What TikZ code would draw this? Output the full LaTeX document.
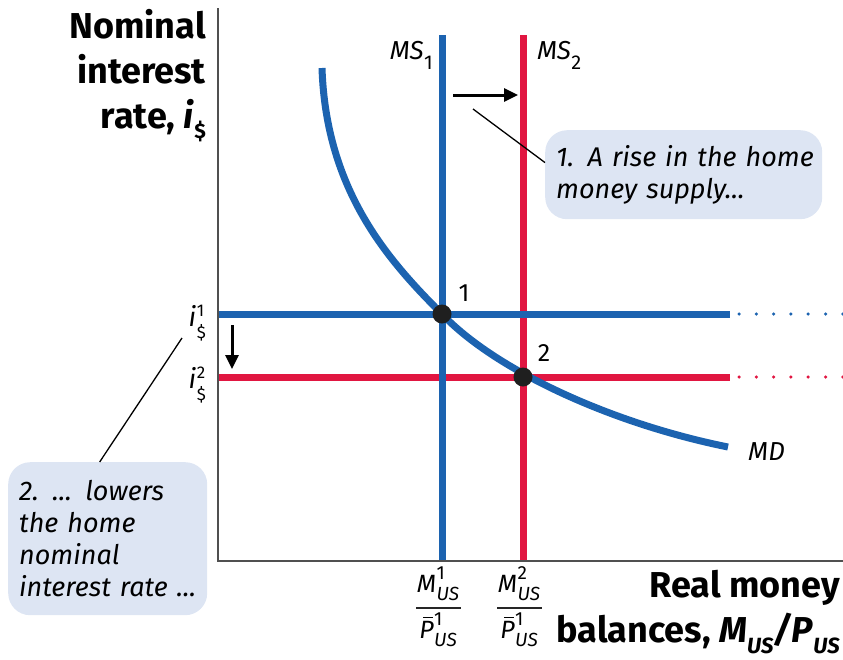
\documentclass[tikz,border=0pt]{standalone}
\usepackage{fontspec}
\setmainfont{Fira Sans}
\usetikzlibrary{arrows.meta}
\definecolor{msblue}{RGB}{28,99,176}
\definecolor{msred}{RGB}{225,22,65}
\definecolor{boxfill}{RGB}{221,229,243}
\definecolor{axisgray}{RGB}{80,80,80}
% base with raised superscript and lowered subscript, stacked
\newcommand{\SupSub}[6]{#1\kern0.5pt\rlap{\raisebox{#4}{\fontsize{#6}{#6}\selectfont #2}}\raisebox{-#5}{\fontsize{#6}{#6}\selectfont #3}}
\newcommand{\BarP}{\rlap{\hspace{4pt}\raisebox{20pt}{\rule{10pt}{1.3pt}}}P}
\newcommand{\annotfont}{\fontsize{27}{32}\selectfont\itshape}
\newcommand{\bigfont}{\fontsize{36}{45}\selectfont\bfseries}
\begin{document}
\begin{tikzpicture}[x=1pt,y=-1pt,
  axisline/.style={draw=axisgray,line width=2.5pt},
  blueline/.style={draw=msblue,line width=7pt},
  redline/.style={draw=msred,line width=7pt},
  bluedots/.style={draw=msblue,line width=3.5pt,line cap=round,dash pattern=on 0pt off 17.3pt},
  reddots/.style={draw=msred,line width=3.5pt,line cap=round,dash pattern=on 0pt off 17.3pt},
  callout/.style={draw=black,line width=1.3pt},
  fracbar/.style={draw=black!85,line width=1.2pt},
  movearrow/.style={draw=black,line width=3pt,-{Triangle[length=14pt,width=13pt]}},
  notebox/.style={fill=boxfill,rounded corners=22pt,inner xsep=11pt,inner ysep=0pt,align=left,font=\annotfont,anchor=north west},
  eqdot/.style={circle,fill=black!88,minimum size=19pt,inner sep=0pt},
  numlabel/.style={font=\fontsize{25}{25}\selectfont,inner sep=0pt},
  curvelabel/.style={font=\fontsize{26}{26}\selectfont\itshape,inner sep=0pt},
  axislabel/.style={font=\bigfont,align=right,inner sep=0pt},
  ticklabel/.style={font=\fontsize{27}{27}\selectfont\itshape,inner sep=0pt},
  fraclabel/.style={font=\fontsize{25}{25}\selectfont\itshape,inner sep=0pt,anchor=base}
]
\useasboundingbox (0,0) rectangle (843,659);

% horizontal and vertical schedule lines
\draw[redline] (218,377) -- (730,377);
\draw[reddots] (739,377) -- (844,377);
\draw[blueline] (442,35) -- (442,560);
\draw[redline] (523,35) -- (523,560);
\draw[blueline] (218,314) -- (730,314);
\draw[bluedots] (739,314) -- (844,314);

% money demand
\draw[blueline] (322,68) .. controls (326,192) and (390,262) .. (442,314)
  .. controls (494,369) and (609,423) .. (728,447);

% axes
\draw[axisline] (218,8) -- (218,561) -- (844,561);

% equilibrium points
\node[eqdot] (p1) at (442,314) {};
\node[eqdot] (p2) at (523,377) {};
\node[numlabel] (l1) at (464,293) {1};
\node[numlabel] (l2) at (544,353) {2};

% curve labels
\node[curvelabel,anchor=base east] (ms1) at (433,59) {\SupSub{MS}{}{\upshape 1}{0pt}{0.42em}{20}};
\node[curvelabel,anchor=base west] (ms2) at (537,59) {\SupSub{MS}{}{\upshape 2}{0pt}{0.42em}{20}};
\node[curvelabel,anchor=base west] (md) at (748,460) {MD};

% y-axis tick labels
\node[ticklabel,anchor=base east] (i1) at (206,326) {\SupSub{i}{\upshape 1}{\upshape\$}{0.36em}{0.45em}{17}};
\node[ticklabel,anchor=base east] (i2) at (206,388) {\SupSub{i}{\upshape 2}{\upshape\$}{0.36em}{0.45em}{17}};

% x-axis tick labels (fractions)
\node[fraclabel] (m1n) at (438,592) {\SupSub{M}{\upshape 1}{US}{0.5em}{0.33em}{19}};
\node[fraclabel] (m1d) at (438,638) {\SupSub{\BarP}{\upshape 1}{US}{0.5em}{0.33em}{19}};
\draw[fracbar] (416,608) -- (461,608);
\node[fraclabel] (m2n) at (519,592) {\SupSub{M}{\upshape 2}{US}{0.5em}{0.33em}{19}};
\node[fraclabel] (m2d) at (519,638) {\SupSub{\BarP}{\upshape 1}{US}{0.5em}{0.33em}{19}};
\draw[fracbar] (497,608) -- (542,608);

% axis titles
\node[axislabel,anchor=east] (ytitle) at (206,76) {Nominal\\interest\\rate, \textit{i}\raisebox{-0.28em}{\fontsize{21}{21}\selectfont\$}};
\node[axislabel,anchor=east] (xtitle) at (840,612) {Real money\\balances, \textit{M}\raisebox{-0.3em}{\fontsize{22}{22}\selectfont\itshape US}\textit{/P}\raisebox{-0.3em}{\fontsize{22}{22}\selectfont\itshape US}};

% shift arrows
\coordinate (a1s) at (453,95);
\coordinate (a1e) at (518,95);
\draw[movearrow] (a1s) -- (a1e);
\coordinate (a2s) at (232,325);
\coordinate (a2e) at (232,369);
\draw[movearrow] (a2s) -- (a2e);

% annotation boxes
\node[notebox,minimum width=277pt,minimum height=89pt,text width=255pt] (box1) at (545,130) {\mbox{1. A rise in the home}\\\mbox{money supply...}};
\node[notebox,minimum width=199pt,minimum height=153pt,text width=177pt] (box2) at (8,462) {\mbox{2. ... lowers}\\\mbox{the home}\\\mbox{nominal}\\\mbox{interest rate ...}};

\coordinate (c1) at (473,109);
\draw[callout] (c1) -- (box1.175);
\coordinate (c2) at (182,338);
\draw[callout] (c2) -- (box2.96);
\end{tikzpicture}
\end{document}
